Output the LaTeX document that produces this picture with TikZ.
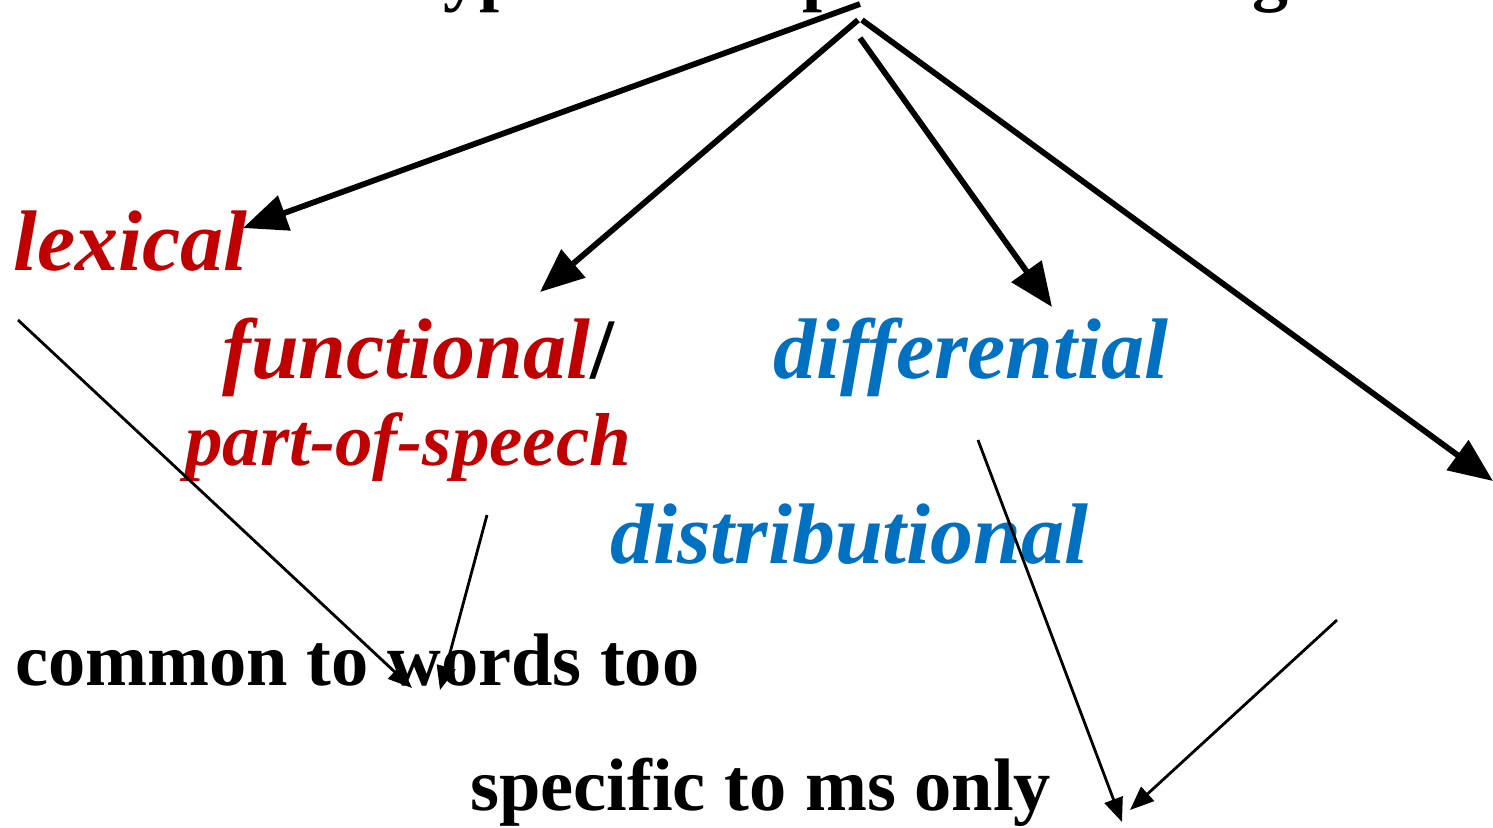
\documentclass[tikz,border=0pt]{standalone}
\usepackage{fontspec}
\setmainfont{Liberation Serif}
\usetikzlibrary{arrows.meta}
\definecolor{myred}{HTML}{C00000}
\definecolor{myblue}{HTML}{0070C0}
\tikzset{
  lbl/.style={inner sep=0pt, anchor=base west},
  bigfont/.style={font=\bfseries\itshape\fontsize{43pt}{50pt}\selectfont},
  midfont/.style={font=\bfseries\itshape\fontsize{37.5pt}{44pt}\selectfont},
  plainfont/.style={font=\bfseries\fontsize{37.2pt}{44pt}\selectfont},
  bigarrow/.style={line width=2.9pt, -{Triangle[length=22pt,width=18pt]}},
  smallarrow/.style={line width=1.4pt, -{Triangle[length=12pt,width=9.5pt]}}
}
\begin{document}
\begin{tikzpicture}[x=0.5pt, y=-0.5pt]
\useasboundingbox[fill=white] (0,0) rectangle (1493,827);
% title (mostly cut off at the top)
\node[lbl, font=\bfseries\fontsize{36pt}{40pt}\selectfont] (title) at (400,-3) {Types of morpheme meaning};
% labels
\node[lbl, bigfont, text=myred] (lexical) at (13,270) {lexical};
\node[lbl, bigfont, text=myred] (functional) at (222,378) {functional\textcolor{black}{\upshape/}};
\node[lbl, midfont, text=myred] (pos) at (185,465) {part-of-speech};
\node[lbl, bigfont, text=myblue] (differential) at (773,378) {differential};
\node[lbl, bigfont, text=myblue] (distributional) at (610,563) {distributional};
\node[lbl, plainfont] (common) at (15,685) {common to words too};
\node[lbl, plainfont] (specific) at (470,810) {specific to ms only};
% connector points
\coordinate (t1) at (860,4);
\coordinate (t2) at (858,20);
\coordinate (t3) at (860,38);
\coordinate (t4) at (862,20);
\coordinate (lexTip) at (243,228);
\coordinate (funTip) at (540,292);
\coordinate (difTip) at (1052,307);
\coordinate (offTip) at (1493,481);
\coordinate (s1) at (18,320);
\coordinate (e1) at (412,688);
\coordinate (s2) at (487,515);
\coordinate (e2) at (440,690);
\coordinate (s3) at (978,440);
\coordinate (e3) at (1122,822);
\coordinate (s4) at (1337,620);
\coordinate (e4) at (1130,810);
% thick arrows
\draw[bigarrow] (t1) -- (lexTip);
\draw[bigarrow] (t2) -- (funTip);
\draw[bigarrow] (t3) -- (difTip);
\draw[bigarrow] (t4) -- (offTip);
% thin arrows
\draw[smallarrow] (s1) -- (e1);
\draw[smallarrow] (s2) -- (e2);
\draw[smallarrow] (s3) -- (e3);
\draw[smallarrow] (s4) -- (e4);
\end{tikzpicture}
\end{document}
